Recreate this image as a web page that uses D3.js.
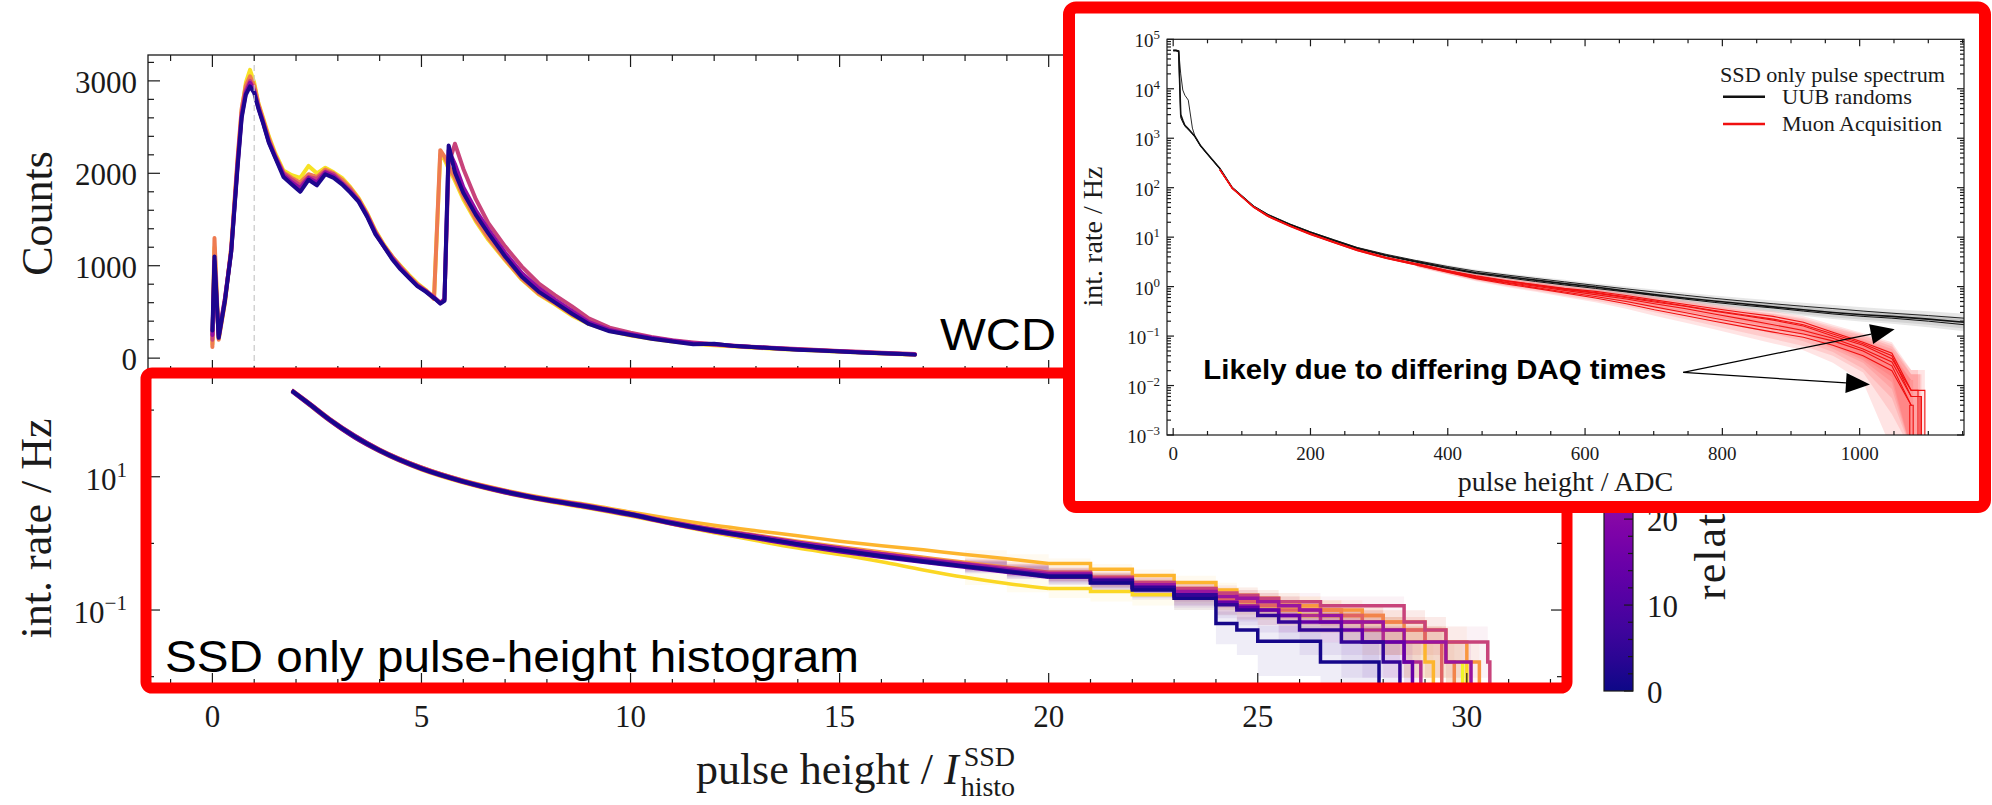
<!DOCTYPE html>
<html>
<head>
<meta charset="utf-8">
<script src="https://cdn.jsdelivr.net/npm/d3@7"></script>
<style>
body{margin:0;background:#fff}
svg{display:block}
</style>
</head>
<body>
<svg id="fig" width="1992" height="805"></svg>
<script>
// ---------- WCD histogram (top panel) ----------
var wcdX = [0, 0.05, 0.15, 0.3, 0.45, 0.6, 0.7, 0.8, 0.9, 1.0,
  1.1, 1.2, 1.35, 1.5, 1.7, 1.9, 2.1, 2.3, 2.5, 2.7,
  2.9, 3.1, 3.3, 3.5, 3.7, 3.9, 4.1, 4.3, 4.5, 4.7,
  4.9, 5.1, 5.3, 5.45, 5.55, 5.65, 5.8, 6.0, 6.3, 6.6,
  7.0, 7.4, 7.8, 8.2, 8.6, 9.0, 9.5, 10, 10.5, 11,
  11.5, 12, 12.5, 13, 13.5, 14, 14.5, 15, 15.5, 16,
  16.5, 16.8]
var wcdYellow = [150, 1200, 210, 610, 1180, 2120, 2680, 2980, 3120, 2980,
  2760, 2620, 2400, 2220, 2030, 1980, 1950, 2080, 2000, 2060,
  2010, 1950, 1850, 1730, 1570, 1380, 1230, 1100, 1000, 900,
  810, 740, 650, 2200, 2150, 2050, 1920, 1720, 1480, 1280,
  1060, 850, 690, 580, 460, 370, 295, 245, 210, 180,
  155, 140, 125, 112, 100, 90, 80, 70, 60, 50,
  42, 36]
var wcdSalmon = [120, 1300, 200, 600, 1200, 2150, 2700, 2950, 3050, 2950,
  2750, 2600, 2380, 2200, 2010, 1950, 1900, 1990, 1960, 2040,
  2000, 1930, 1840, 1720, 1560, 1370, 1220, 1100, 990, 890,
  800, 730, 640, 2250, 2180, 2080, 1950, 1750, 1500, 1300,
  1070, 860, 700, 590, 470, 380, 300, 250, 215, 185,
  160, 145, 130, 118, 105, 95, 85, 75, 65, 55,
  46, 40]
var wcdMagenta = [200, 1000, 250, 650, 1150, 2100, 2650, 2900, 3000, 2900,
  2720, 2580, 2350, 2190, 2000, 1930, 1870, 1960, 1940, 2020,
  1990, 1900, 1820, 1700, 1550, 1360, 1210, 1090, 980, 880,
  790, 730, 660, 600, 640, 2100, 2320, 2050, 1720, 1460,
  1210, 990, 810, 680, 560, 430, 330, 275, 230, 195,
  170, 150, 135, 120, 110, 98, 88, 78, 68, 58,
  50, 45]
var wcdPurple = [250, 1050, 230, 640, 1160, 2080, 2620, 2870, 2980, 2890,
  2710, 2570, 2340, 2180, 1980, 1900, 1840, 1950, 1900, 2010,
  1970, 1890, 1800, 1700, 1540, 1350, 1210, 1080, 970, 875,
  785, 725, 655, 595, 630, 2250, 2100, 1850, 1600, 1390,
  1140, 920, 760, 630, 510, 390, 305, 260, 220, 188,
  160, 150, 132, 119, 106, 94, 84, 74, 63, 54,
  46, 40]
var wcdNavy = [300, 1100, 220, 620, 1150, 2050, 2600, 2850, 2940, 2870,
  2700, 2560, 2330, 2170, 1960, 1880, 1800, 1930, 1870, 1990,
  1950, 1880, 1790, 1690, 1530, 1340, 1210, 1070, 960, 870,
  780, 720, 650, 590, 620, 2300, 2010, 1790, 1550, 1350,
  1100, 880, 720, 600, 480, 370, 290, 250, 210, 180,
  150, 155, 130, 118, 105, 92, 82, 72, 60, 52,
  44, 38]
var wcdTimes = [70, 50, 36, 22, 2]

// ---------- SSD integrated rate (bottom panel) ----------
var ssdX = [1.9, 2.3, 2.8, 3.4, 4, 5, 6, 7, 8, 9,
  10, 11, 12, 13, 14, 15, 16, 17, 18, 19,
  20, 21, 22, 23, 24, 24.5, 25, 25.5, 26, 26.5,
  27, 27.5, 28, 28.5, 29, 29.5, 30, 30.5]
var ssdA = [195, 126, 72, 40, 24.8, 13.3, 8.45, 5.94, 4.48, 3.54,
  2.72, 2.03, 1.56, 1.24, 0.98, 0.79, 0.64, 0.53, 0.45, 0.375,
  0.316, 0.254, 0.20, 0.15, 0.063, 0.05, 0.034, 0.034, 0.034, 0.0166,
  0.0166, 0.0166]
var ssdB = [197, 128, 73, 41, 25.2, 13.5, 8.6, 6.05, 4.55, 3.6,
  2.78, 2.0, 1.52, 1.22, 0.97, 0.80, 0.66, 0.55, 0.46, 0.39,
  0.33, 0.28, 0.22, 0.17, 0.12, 0.1, 0.083, 0.066, 0.05, 0.05,
  0.033, 0.033, 0.0166]
var ssdC = [190, 122, 69.5, 38.5, 24, 12.9, 8.25, 5.75, 4.35, 3.43,
  2.64, 1.96, 1.5, 1.18, 0.93, 0.75, 0.62, 0.52, 0.44, 0.37,
  0.31, 0.26, 0.21, 0.16, 0.13, 0.11, 0.1, 0.083, 0.066, 0.066,
  0.05, 0.033, 0.033, 0.0166]
var ssdD = [200, 130, 74.5, 41.8, 25.6, 13.8, 8.75, 6.15, 4.63, 3.67,
  2.8, 2.1, 1.62, 1.3, 1.04, 0.85, 0.70, 0.58, 0.49, 0.41,
  0.35, 0.29, 0.24, 0.19, 0.16, 0.15, 0.133, 0.116, 0.1, 0.083,
  0.066, 0.066, 0.05, 0.033, 0.033, 0.0166, 0.0166]
var ssdE = [193, 124, 70.5, 39.3, 24.4, 13.1, 8.35, 5.85, 4.42, 3.48,
  2.7, 2.0, 1.55, 1.23, 0.99, 0.81, 0.67, 0.56, 0.47, 0.40,
  0.34, 0.28, 0.22, 0.17, 0.133, 0.116, 0.1, 0.083, 0.083, 0.066,
  0.066, 0.05, 0.033, 0.0166]
var ssdF = [196, 127, 72, 40.5, 25, 13.4, 8.5, 6.0, 4.5, 3.56,
  2.74, 2.05, 1.6, 1.28, 1.02, 0.84, 0.70, 0.59, 0.50, 0.43,
  0.37, 0.31, 0.26, 0.21, 0.18, 0.166, 0.15, 0.133, 0.133, 0.116,
  0.116, 0.116, 0.116, 0.066, 0.05, 0.033, 0.033, 0.0166]
var ssdG = [192, 124, 71, 39.4, 24.5, 13.15, 8.38, 5.88, 4.44, 3.5,
  2.7, 1.95, 1.5, 1.2, 0.97, 0.79, 0.65, 0.55, 0.47, 0.40,
  0.34, 0.29, 0.235, 0.19, 0.15, 0.133, 0.116, 0.1, 0.1, 0.083,
  0.083, 0.066, 0.05, 0.05, 0.033]
var ssdH = [199, 129, 74, 41, 25.4, 13.65, 8.65, 6.08, 4.57, 3.62,
  2.78, 2.08, 1.6, 1.27, 1.01, 0.82, 0.68, 0.57, 0.48, 0.41,
  0.35, 0.30, 0.25, 0.2, 0.16, 0.15, 0.133, 0.116, 0.1, 0.1,
  0.083, 0.083, 0.066, 0.05, 0.033, 0.0166]
var ssdI = [201, 131, 75, 42, 25.8, 13.9, 8.8, 6.2, 4.65, 3.68,
  2.82, 2.12, 1.66, 1.34, 1.08, 0.89, 0.74, 0.62, 0.52, 0.44,
  0.37, 0.31, 0.26, 0.21, 0.17, 0.15, 0.133, 0.116, 0.116, 0.1,
  0.1, 0.083, 0.066, 0.066, 0.05, 0.033, 0.0166]
var ssdJ = [198, 129, 74, 41.5, 25.6, 13.9, 8.85, 6.3, 4.75, 3.8,
  2.95, 2.32, 1.87, 1.55, 1.3, 1.08, 0.92, 0.8, 0.68, 0.59,
  0.5, 0.41, 0.33, 0.26, 0.2, 0.166, 0.15, 0.133, 0.116, 0.1,
  0.083, 0.066, 0.05, 0.033, 0.0166]
var ssdK = [191, 121, 69, 38.3, 23.7, 12.7, 8.1, 5.68, 4.27, 3.36,
  2.58, 1.93, 1.44, 1.1, 0.85, 0.68, 0.53, 0.4, 0.31, 0.25,
  0.21, 0.19, 0.17, 0.15, 0.13, 0.116, 0.1, 0.1, 0.083, 0.083,
  0.066, 0.066, 0.05, 0.033, 0.033, 0.0166]
var ssdL = [195, 126, 72, 40, 24.8, 13.3, 8.5, 5.95, 4.5, 3.56,
  2.75, 2.05, 1.6, 1.3, 1.05, 0.85, 0.7, 0.58, 0.48, 0.41,
  0.35, 0.29, 0.23, 0.18, 0.15, 0.133, 0.116, 0.1, 0.083, 0.083,
  0.066, 0.05, 0.05, 0.033, 0.033, 0.0166]
var ssdTimes = [1, 5, 14, 24, 30, 36, 44, 52, 56, 62, 68, 73]
var ssdEnd = [27.9, 28.4, 28.7, 30.1, 28.9, 30.55, 29.4, 29.7, 30.3, 29.2, 30.0, 29.9]
var ssdQuantum = 0.0166   // rate of a single count

// ---------- inset: SSD only pulse spectrum ----------
var insX = [0, 4, 8, 11, 14, 17, 22, 28, 32, 40,
  50, 68, 86, 117, 138, 170, 200, 235, 268, 310,
  355, 400, 441, 485, 528, 570, 615, 660, 701, 745,
  788, 830, 874, 918, 961, 1005, 1047, 1100, 1152]
var uubMain = [60000, 60000, 58000, 3000, 2300, 1830, 1550, 1250, 1070, 700,
  480, 245, 100, 42, 28, 18, 12.5, 8.6, 6.0, 4.3,
  3.2, 2.4, 1.9, 1.6, 1.35, 1.15, 0.98, 0.81, 0.69, 0.59,
  0.51, 0.45, 0.39, 0.34, 0.30, 0.27, 0.25, 0.22, 0.19]
var uubBump = [60000, 60000, 59000, 20000, 9400, 7400, 5900, 1600, 1070, 700,
  480, 245, 101, 43, 29, 18.5, 12.8, 8.8, 6.2, 4.5,
  3.35, 2.55, 2.05, 1.72, 1.46, 1.25, 1.06, 0.9, 0.78, 0.67,
  0.58, 0.51, 0.45, 0.4, 0.36, 0.32, 0.29, 0.26, 0.23]
var uubThird = [58000, 58000, 56000, 2600, 2100, 1750, 1500, 1220, 1050, 690,
  470, 240, 99, 41, 27.5, 17.6, 12.2, 8.4, 5.9, 4.2,
  3.1, 2.33, 1.84, 1.52, 1.27, 1.08, 0.92, 0.78, 0.66, 0.56,
  0.48, 0.42, 0.37, 0.32, 0.28, 0.25, 0.23, 0.2, 0.17]
var muonX = [68, 86, 117, 138, 170, 200, 235, 268, 310, 355,
  400, 441, 485, 528, 570, 615, 660, 701, 745, 788,
  830, 874, 918, 961, 1005, 1047, 1075]
var muon1 = [230, 98, 41, 27, 17, 11.8, 8.0, 5.6, 3.9, 2.9, 2.1, 1.65, 1.32, 1.1, 0.92, 0.8, 0.66, 0.54, 0.44, 0.36, 0.3, 0.25, 0.19, 0.12, 0.075, 0.045, 0.008]
var muon2 = [230, 97, 40, 26, 16.5, 11.2, 7.6, 5.3, 3.7, 2.7, 1.95, 1.45, 1.13, 0.92, 0.74, 0.59, 0.45, 0.34, 0.26, 0.2, 0.155, 0.12, 0.095, 0.065, 0.04, 0.02, 0.004]
var muon3 = [230, 98, 41, 27, 17, 11.5, 7.8, 5.5, 3.8, 2.8, 2.02, 1.54, 1.22, 1.02, 0.84, 0.69, 0.56, 0.45, 0.36, 0.28, 0.22, 0.17, 0.13, 0.09, 0.055, 0.03, 0.006]
var muon4 = [232, 99, 41, 27, 17, 11.6, 7.9, 5.5, 3.85, 2.85, 2.08, 1.6, 1.28, 1.06, 0.88, 0.74, 0.6, 0.49, 0.4, 0.32, 0.26, 0.21, 0.16, 0.1, 0.065, 0.035, 0.008]
var muon5 = [230, 97, 40, 26, 16.8, 11.4, 7.7, 5.4, 3.75, 2.75, 1.98, 1.5, 1.18, 0.96, 0.78, 0.63, 0.5, 0.39, 0.3, 0.23, 0.18, 0.14, 0.11, 0.08, 0.05, 0.025, 0.004]
var muon6 = [231, 98, 41, 27, 17, 11.7, 7.9, 5.6, 3.9, 2.9, 2.1, 1.62, 1.3, 1.08, 0.9, 0.76, 0.62, 0.51, 0.41, 0.33, 0.27, 0.22, 0.17, 0.11, 0.07, 0.04, 0.006]
var muonEnd = [1085, 1078, 1090, 1095, 1073, 1088]
var uubQuantum = 0.012, muonQuantum = 0.02

var cbMax = 74
var cbMajor = [0, 10, 20, 30, 40, 50, 60, 70]
var xTickLabels = [0, 5, 10, 15, 20, 25, 30]
var countTicks = [0, 1000, 2000, 3000]
var insXTicks = [0, 200, 400, 600, 800, 1000]

// annotation (inset data coordinates)
var annText = [44, 0.0133]
var annFrom = [743, 0.0184]
var annTips = [[1051, 0.137], [1015, 0.0105]]

// ---------- drawing ----------
var serif = "'Liberation Serif', 'DejaVu Serif', serif"
var sans = "'Liberation Sans', Arial, sans-serif"
var ink = "#1a1a1a"
var svg = d3.select("#fig")
svg.append("rect").attr("width", 1992).attr("height", 805).attr("fill", "#fff")

var x = d3.scaleLinear().domain([-1.54, 32.3]).range([148, 1563])
var yTop = d3.scaleLinear().domain([-150, 3280]).range([372, 55])
var yBot = d3.scaleLog().domain([0.0075, 373]).range([685, 372])
var cb = d3.scaleLinear().domain([0, cbMax]).range([691, 55])
var col = v => d3.interpolatePlasma(v / cbMax)

var defs = svg.append("defs")
defs.append("clipPath").attr("id", "clipTop").append("rect")
    .attr("x", 148).attr("y", 55).attr("width", 1415).attr("height", 317)
defs.append("clipPath").attr("id", "clipBot").append("rect")
    .attr("x", 148).attr("y", 372).attr("width", 1415).attr("height", 313)

function tick(g, x1, y1, x2, y2){
    g.append("line").attr("x1", x1).attr("y1", y1).attr("x2", x2).attr("y2", y2)
        .attr("stroke", ink).attr("stroke-width", 1.2)
}

// top panel lines
var gTop = svg.append("g").attr("clip-path", "url(#clipTop)")
var wcdAll = [wcdYellow, wcdSalmon, wcdMagenta, wcdPurple, wcdNavy]
var lineTop = d3.line().x((d, i) => x(wcdX[i])).y(d => yTop(d))
wcdAll.forEach(function(s, k){
    gTop.append("path").attr("d", lineTop(s)).attr("fill", "none")
        .attr("stroke", col(wcdTimes[k])).attr("stroke-width", 4)
        .attr("stroke-linejoin", "round").attr("stroke-linecap", "round")
})
svg.append("line").attr("x1", x(1)).attr("x2", x(1)).attr("y1", 55).attr("y2", 372)
    .attr("stroke", "#c8c8c8").attr("stroke-width", 1.2).attr("stroke-dasharray", "6,4")

// bottom panel
var gBot = svg.append("g").attr("clip-path", "url(#clipBot)")
var ssdAll = [ssdA, ssdB, ssdC, ssdD, ssdE, ssdF, ssdG, ssdH, ssdI, ssdJ, ssdK, ssdL]
var yMinB = yBot.domain()[0]
var iStep = 20   // grid index where the staircase part starts
var smooth = d3.line().x(d => x(d[0])).y(d => yBot(d[1])).curve(d3.curveMonotoneX)
var step = d3.line().x(d => x(d[0])).y(d => yBot(Math.max(d[1], yMinB * 0.5))).curve(d3.curveStepAfter)
var band = d3.area().x(d => x(d[0]))
    .y0(d => yBot(Math.max(d[1] * (1 - 1 / Math.sqrt(d[1] / ssdQuantum)), yMinB * 0.5)))
    .y1(d => yBot(d[1] * (1 + 1 / Math.sqrt(d[1] / ssdQuantum))))
    .curve(d3.curveStepAfter)
var order = d3.range(ssdAll.length).sort((a, b) => ssdTimes[b] - ssdTimes[a])
order.forEach(function(k){
    var s = ssdAll[k]
    var pts = s.map((v, i) => [ssdX[i], v])
    var full = pts.slice(18).concat([[ssdEnd[k], s[s.length - 1]]])
    gBot.append("path").attr("d", band(full)).attr("fill", col(ssdTimes[k])).attr("opacity", 0.07)
})
order.forEach(function(k){
    var s = ssdAll[k]
    var pts = s.map((v, i) => [ssdX[i], v])
    var last = s[s.length - 1]
    var tail = pts.slice(iStep).concat([[ssdEnd[k], last], [ssdEnd[k], yMinB * 0.5]])
    gBot.append("path").attr("d", smooth(pts.slice(0, iStep + 1)) + step(tail)).attr("fill", "none")
        .attr("stroke", col(ssdTimes[k])).attr("stroke-width", 3.5)
        .attr("stroke-linejoin", "miter")
})

// frames and ticks of the main panels
var gAx = svg.append("g")
var xMinor = d3.range(-1, 33).filter(v => v % 5 !== 0)
;[[55, 1], [372, -1], [372, 1], [685, -1]].forEach(function(p){
    xTickLabels.forEach(v => tick(gAx, x(v), p[0], x(v), p[0] + 12 * p[1]))
    xMinor.forEach(v => tick(gAx, x(v), p[0], x(v), p[0] + 6 * p[1]))
})
var cMinor = d3.range(200, 3280, 200).filter(v => v % 1000 !== 0)
countTicks.forEach(function(v){
    tick(gAx, 148, yTop(v), 160, yTop(v)); tick(gAx, 1563, yTop(v), 1551, yTop(v))
})
cMinor.forEach(function(v){
    tick(gAx, 148, yTop(v), 154, yTop(v)); tick(gAx, 1563, yTop(v), 1557, yTop(v))
})
;[0.1, 10].forEach(function(v){
    tick(gAx, 148, yBot(v), 160, yBot(v)); tick(gAx, 1563, yBot(v), 1551, yBot(v))
})
;[0.01, 1, 100].forEach(function(v){
    tick(gAx, 148, yBot(v), 154, yBot(v)); tick(gAx, 1563, yBot(v), 1557, yBot(v))
})
gAx.append("rect").attr("x", 148).attr("y", 55).attr("width", 1415).attr("height", 630)
    .attr("fill", "none").attr("stroke", ink).attr("stroke-width", 1.3)
gAx.append("line").attr("x1", 148).attr("x2", 1563).attr("y1", 372).attr("y2", 372)
    .attr("stroke", ink).attr("stroke-width", 1.3)

countTicks.forEach(function(v){
    gAx.append("text").attr("x", 137).attr("y", yTop(v) + 12).attr("text-anchor", "end")
        .attr("font-family", serif).attr("font-size", 31).attr("fill", ink).text(v)
})
xTickLabels.forEach(function(v){
    gAx.append("text").attr("x", x(v)).attr("y", 727).attr("text-anchor", "middle")
        .attr("font-family", serif).attr("font-size", 31).attr("fill", ink).text(v)
})
function powLabel(g, px, py, base, exp, fs, anchor){
    var t = g.append("text").attr("x", px).attr("y", py).attr("text-anchor", anchor)
        .attr("font-family", serif).attr("font-size", fs).attr("fill", ink)
    t.append("tspan").text(base)
    t.append("tspan").attr("dy", -fs * 0.42).attr("font-size", fs * 0.68).text(exp)
    return t
}
powLabel(gAx, 127, yBot(10) + 13, "10", "1", 31, "end")
powLabel(gAx, 127, yBot(0.1) + 13, "10", "\u22121", 31, "end")

// axis labels
gAx.append("text").attr("transform", "translate(52,213.5) rotate(-90)").attr("text-anchor", "middle")
    .attr("font-family", serif).attr("font-size", 44).attr("fill", ink).text("Counts")
gAx.append("text").attr("transform", "translate(51,528.5) rotate(-90)").attr("text-anchor", "middle")
    .attr("font-family", serif).attr("font-size", 44).attr("fill", ink).text("int. rate / Hz")
var xl = gAx.append("text").attr("y", 784).attr("font-family", serif).attr("font-size", 44).attr("fill", ink)
xl.append("tspan").text("pulse height / ")
xl.append("tspan").attr("font-style", "italic").text("I")
var xlW = xl.node().getComputedTextLength()
var subSpan = xl.append("tspan").attr("dy", 12).attr("font-size", 28).text("histo")
var subW = subSpan.node().getComputedTextLength()
var supSpan = xl.append("tspan").attr("dy", -30).attr("font-size", 28).text("SSD")
var totW = xlW + 2 + Math.max(subW, supSpan.node().getComputedTextLength() + 3)
var x0 = (148 + 1563) / 2 - totW / 2
xl.attr("x", x0)
subSpan.attr("dx", 2)
supSpan.attr("x", x0 + xlW + 5)

// colorbar
var grad = defs.append("linearGradient").attr("id", "plasma").attr("x1", 0).attr("x2", 0).attr("y1", 1).attr("y2", 0)
d3.range(0, 1.0001, 0.05).forEach(t => grad.append("stop").attr("offset", t).attr("stop-color", d3.interpolatePlasma(t)))
svg.append("rect").attr("x", 1604).attr("y", cb(cbMax)).attr("width", 29).attr("height", cb(0) - cb(cbMax))
    .attr("fill", "url(#plasma)").attr("stroke", ink).attr("stroke-width", 1.2)
d3.range(0, cbMax, 2).forEach(function(v){
    tick(svg, 1633, cb(v), 1633 - (v % 10 === 0 ? 9 : 5), cb(v))
})
cbMajor.forEach(function(v){
    svg.append("text").attr("x", 1647).attr("y", cb(v) + 12).attr("font-family", serif)
        .attr("font-size", 31).attr("fill", ink).text(v)
})
svg.append("text").attr("transform", "translate(1725,600) rotate(-90)").attr("font-family", serif)
    .attr("font-size", 44).attr("letter-spacing", 2).attr("fill", ink).text("relative time / days")

// annotations on the main figure
svg.append("text").attr("x", 940).attr("y", 350).attr("font-family", sans).attr("font-size", 45)
    .attr("textLength", 116).attr("lengthAdjust", "spacingAndGlyphs").attr("fill", "#000").text("WCD")
svg.append("text").attr("x", 165).attr("y", 672).attr("font-family", sans).attr("font-size", 45)
    .attr("textLength", 694).attr("lengthAdjust", "spacingAndGlyphs").attr("fill", "#000")
    .text("SSD only pulse-height histogram")
svg.append("rect").attr("x", 146).attr("y", 373).attr("width", 1421).attr("height", 315)
    .attr("rx", 6).attr("fill", "none").attr("stroke", "#ff0000").attr("stroke-width", 11)

// ---------- inset ----------
svg.append("rect").attr("x", 1069).attr("y", 7.5).attr("width", 916).attr("height", 499.5)
    .attr("rx", 7).attr("fill", "#fff").attr("stroke", "#ff0000").attr("stroke-width", 12)
var ix = d3.scaleLinear().domain([-9, 1152]).range([1167, 1964])
var iy = d3.scaleLog().domain([1e-3, 1e5]).range([435, 39.3])
defs.append("clipPath").attr("id", "clipIns").append("rect")
    .attr("x", 1167).attr("y", 39.3).attr("width", 797).attr("height", 395.7)
var gIn = svg.append("g").attr("clip-path", "url(#clipIns)")
var iLine = d3.line().x(d => ix(d[0])).y(d => iy(Math.max(d[1], 5e-4)))
function iBand(q){
    return d3.area().x(d => ix(d[0]))
        .y0(d => iy(Math.max(d[1] * (1 - 1 / Math.sqrt(d[1] / q)), 5e-4)))
        .y1(d => iy(d[1] * (1 + 1 / Math.sqrt(d[1] / q))))
}
var uubAll = [uubMain, uubBump, uubThird]
var uubW = [1.6, 0.9, 1.0]
uubAll.forEach(function(s){
    gIn.append("path").attr("d", iBand(uubQuantum)(s.map((v, i) => [insX[i], v]).slice(20)))
        .attr("fill", "#888").attr("opacity", 0.2)
})
var muonAll = [muon1, muon2, muon3, muon4, muon5, muon6]
muonAll.forEach(function(s, k){
    var pts = s.map((v, i) => [muonX[i], v]).concat([[muonEnd[k], s[s.length - 1]]])
    gIn.append("path").attr("d", iBand(muonQuantum)(pts.slice(9))).attr("fill", "#ff3030").attr("opacity", 0.13)
})
uubAll.forEach(function(s, k){
    gIn.append("path").attr("d", iLine(s.map((v, i) => [insX[i], v]))).attr("fill", "none")
        .attr("stroke", "#111").attr("stroke-width", uubW[k])
})
muonAll.forEach(function(s, k){
    var pts = s.map((v, i) => [muonX[i], v])
    pts.push([muonEnd[k], s[s.length - 1]], [muonEnd[k], 5e-4])
    gIn.append("path").attr("d", iLine(pts)).attr("fill", "none")
        .attr("stroke", "#f01010").attr("stroke-width", 1.1)
})

// inset frame and ticks
var gIA = svg.append("g")
gIA.append("rect").attr("x", 1167).attr("y", 39.3).attr("width", 797).attr("height", 395.7)
    .attr("fill", "none").attr("stroke", ink).attr("stroke-width", 1.2)
d3.range(0, 1151, 50).forEach(function(v){
    var L = v % 200 === 0 ? 7 : 4
    tick(gIA, ix(v), 435, ix(v), 435 - L); tick(gIA, ix(v), 39.3, ix(v), 39.3 + L)
})
d3.range(-3, 5).forEach(function(k){
    d3.range(1, 10).forEach(function(m){
        var v = m * Math.pow(10, k), L = m === 1 ? 7 : 4
        tick(gIA, 1167, iy(v), 1167 + L, iy(v)); tick(gIA, 1964, iy(v), 1964 - L, iy(v))
    })
})
tick(gIA, 1167, iy(1e5), 1174, iy(1e5))
d3.range(-3, 6).forEach(function(k){
    powLabel(gIA, 1160, iy(Math.pow(10, k)) + 8, "10", k < 0 ? "\u2212" + (-k) : String(k), 19, "end")
})
insXTicks.forEach(function(v){
    gIA.append("text").attr("x", ix(v)).attr("y", 460).attr("text-anchor", "middle")
        .attr("font-family", serif).attr("font-size", 19).attr("fill", ink).text(v)
})
gIA.append("text").attr("x", (1167 + 1964) / 2).attr("y", 491).attr("text-anchor", "middle")
    .attr("font-family", serif).attr("font-size", 28).attr("fill", ink).text("pulse height / ADC")
gIA.append("text").attr("transform", "translate(1102,236.5) rotate(-90)").attr("text-anchor", "middle")
    .attr("font-family", serif).attr("font-size", 28).attr("fill", ink).text("int. rate / Hz")

// legend
gIA.append("text").attr("x", 1720).attr("y", 82).attr("font-family", serif).attr("font-size", 21)
    .attr("textLength", 225).attr("lengthAdjust", "spacingAndGlyphs")
    .attr("fill", ink).text("SSD only pulse spectrum")
;[["UUB randoms", "#111", 96.7, 130], ["Muon Acquisition", "#f01010", 124, 160]].forEach(function(e){
    gIA.append("line").attr("x1", 1723).attr("x2", 1765).attr("y1", e[2]).attr("y2", e[2])
        .attr("stroke", e[1]).attr("stroke-width", 2.5)
    gIA.append("text").attr("x", 1782).attr("y", e[2] + 7).attr("font-family", serif)
        .attr("font-size", 21).attr("textLength", e[3]).attr("lengthAdjust", "spacingAndGlyphs")
        .attr("fill", ink).text(e[0])
})

// annotation with arrows
gIA.append("text").attr("x", ix(annText[0])).attr("y", iy(annText[1])).attr("font-family", sans)
    .attr("font-weight", "bold").attr("font-size", 27).attr("textLength", 463)
    .attr("lengthAdjust", "spacingAndGlyphs").attr("fill", "#000").text("Likely due to differing DAQ times")
annTips.forEach(function(tp){
    var ax0 = ix(annFrom[0]), ay0 = iy(annFrom[1]), ax1 = ix(tp[0]), ay1 = iy(tp[1])
    var ang = Math.atan2(ay1 - ay0, ax1 - ax0), hl = 24, hw = 10
    var bx = ax1 - hl * Math.cos(ang), by = ay1 - hl * Math.sin(ang)
    gIA.append("line").attr("x1", ax0).attr("y1", ay0).attr("x2", bx).attr("y2", by)
        .attr("stroke", "#000").attr("stroke-width", 1.2)
    gIA.append("path").attr("d", "M" + ax1 + "," + ay1 + "L" + (bx + hw * Math.sin(ang)) + "," + (by - hw * Math.cos(ang))
        + "L" + (bx - hw * Math.sin(ang)) + "," + (by + hw * Math.cos(ang)) + "Z").attr("fill", "#000")
})
</script>
</body>
</html>
